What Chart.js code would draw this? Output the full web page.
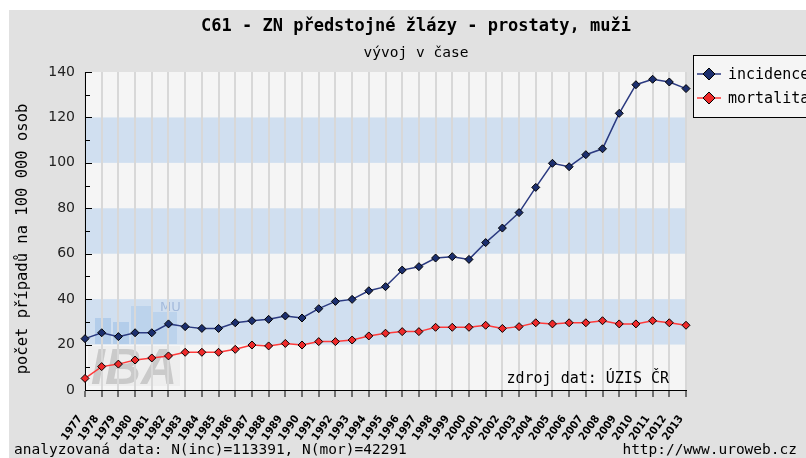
<!DOCTYPE html>
<html><head><meta charset="utf-8">
<script src="https://cdn.jsdelivr.net/npm/chart.js@4/dist/chart.umd.min.js"></script>
<style>html,body{margin:0;padding:0;background:#fff;overflow:hidden}#wrap{width:806px;height:458px;position:relative}</style>
</head><body><div id="wrap"><canvas id="c" width="806" height="458"></canvas></div>
<script>
const years = ['1977','1978','1979','1980','1981','1982','1983','1984','1985','1986','1987','1988','1989','1990','1991','1992','1993','1994','1995','1996','1997','1998','1999','2000','2001','2002','2003','2004','2005','2006','2007','2008','2009','2010','2011','2012','2013'];
const incidence = [22.6,25.2,23.5,25.2,25.2,29.1,27.9,27.1,27.1,29.6,30.5,31.1,32.6,31.7,35.8,39.0,39.9,43.7,45.5,52.8,54.3,58.1,58.7,57.5,64.9,71.3,78.1,89.2,99.8,98.3,103.6,106.2,121.8,134.4,136.8,135.6,132.7];
const mortality = [5.1,10.3,11.4,13.2,14.1,15.0,16.6,16.6,16.6,17.9,19.8,19.4,20.5,19.8,21.3,21.3,22.0,23.8,25.0,25.7,25.7,27.6,27.6,27.6,28.5,27.1,27.9,29.6,29.1,29.6,29.6,30.5,29.1,29.1,30.5,29.6,28.5];
const seriesNames = ['incidence','mortalita'];
const yMin = 0, yMax = 140, yStep = 20, yMinorStep = 10;
const bands = [[20,40],[60,80],[100,120]];
const titleText = 'C61 - ZN předstojné žlázy - prostaty, muži';
const subtitleText = 'vývoj v čase';
const yTitleText = 'počet případů na 100 000 osob';
const sourceText = 'zdroj dat: ÚZIS ČR';
const footLeft = 'analyzovaná data: N(inc)=113391, N(mor)=42291';
const footRight = 'http://www.uroweb.cz';

const MONO = '"DejaVu Sans Mono", "Liberation Mono", monospace';
const incColor = '#1c2f6e', incLine = '#2b3a80';
const morColor = '#ee2a2a', morLine = '#ff3a3a';

const decor = {
  id: 'decor',
  beforeDraw(chart) {
    const {ctx, chartArea: a} = chart;
    const y = chart.scales.y;
    ctx.save();
    ctx.fillStyle = '#ffffff';
    ctx.fillRect(0, 0, chart.width, chart.height);
    ctx.fillStyle = '#e1e1e1';
    ctx.fillRect(9, 10, chart.width - 9, chart.height - 10);
    ctx.fillStyle = '#f5f5f5';
    ctx.fillRect(a.left, a.top, a.right - a.left, a.bottom - a.top);
    ctx.fillStyle = '#d0dff0';
    bands.forEach(([lo, hi]) => {
      const t = y.getPixelForValue(hi), b = y.getPixelForValue(lo);
      ctx.fillRect(a.left, t, a.right - a.left, b - t);
    });
    // faint logo watermark
    ctx.fillStyle = 'rgba(90,150,215,0.25)';
    ctx.fillRect(a.left + 10, 318, 16, 26);
    ctx.fillRect(a.left + 28, 322, 16, 22);
    ctx.fillStyle = 'rgba(90,150,215,0.16)';
    ctx.fillRect(a.left + 46, 306, 20, 38);
    ctx.fillRect(a.left + 68, 312, 24, 32);
    ctx.fillStyle = 'rgba(236,236,236,0.85)';
    ctx.fillRect(a.left + 3, 346, 92, 40);
    ctx.fillStyle = 'rgba(120,150,200,0.5)';
    ctx.font = '13px "DejaVu Sans"';
    ctx.textBaseline = 'alphabetic';
    ctx.fillText('MU', a.left + 75, 311);
    ctx.fillStyle = 'rgba(165,165,165,0.5)';
    ctx.font = 'italic bold 50px "Liberation Sans", Arial, sans-serif';
    ctx.fillText('IBA', a.left + 6, 384);
    ctx.restore();
  },
  afterDraw(chart) {
    const {ctx, chartArea: a} = chart;
    const y = chart.scales.y;
    ctx.save();
    // inner y ticks
    ctx.strokeStyle = '#000';
    ctx.lineWidth = 1;
    for (let v = yMin; v <= yMax; v += yMinorStep) {
      const py = Math.round(y.getPixelForValue(v)) + 0.5;
      const len = (v % yStep === 0) ? 7 : 5;
      ctx.beginPath();
      ctx.moveTo(a.left, py);
      ctx.lineTo(a.left + len, py);
      ctx.stroke();
    }
    ctx.fillStyle = '#000';
    // titles
    ctx.textAlign = 'center';
    ctx.textBaseline = 'middle';
    ctx.font = 'bold 17px ' + MONO;
    ctx.fillText(titleText, 416, 27);
    ctx.font = '14.5px ' + MONO;
    ctx.fillText(subtitleText, 416, 53);
    // y title
    ctx.save();
    ctx.translate(23, 239);
    ctx.rotate(-Math.PI / 2);
    ctx.font = '15.5px ' + MONO;
    ctx.fillText(yTitleText, 0, 0);
    ctx.restore();
    // source
    ctx.textAlign = 'right';
    ctx.font = '15px ' + MONO;
    ctx.fillText(sourceText, 669, 379);
    // footers
    ctx.font = '14.5px ' + MONO;
    ctx.textAlign = 'left';
    ctx.fillText(footLeft, 14, 450);
    ctx.textAlign = 'right';
    ctx.fillText(footRight, 797, 450);
    // legend
    const lx = 693, ly = 55, lw = 130, lh = 62;
    ctx.fillStyle = '#f5f5f5';
    ctx.fillRect(lx, ly, lw, lh);
    ctx.strokeStyle = '#000';
    ctx.lineWidth = 1;
    ctx.strokeRect(lx + 0.5, ly + 0.5, lw, lh);
    chart.data.datasets.forEach((ds, i) => {
      const cy = 74 + i * 24;
      ctx.strokeStyle = ds.borderColor;
      ctx.lineWidth = 1.5;
      ctx.beginPath();
      ctx.moveTo(697, cy);
      ctx.lineTo(721, cy);
      ctx.stroke();
      ctx.beginPath();
      ctx.moveTo(709 - 6, cy); ctx.lineTo(709, cy - 6); ctx.lineTo(709 + 6, cy); ctx.lineTo(709, cy + 6); ctx.closePath();
      ctx.fillStyle = ds.pointBackgroundColor;
      ctx.fill();
      ctx.strokeStyle = '#000';
      ctx.lineWidth = 1;
      ctx.stroke();
      ctx.fillStyle = '#000';
      ctx.textAlign = 'left';
      ctx.font = '15px ' + MONO;
      ctx.fillText(ds.label, 728, cy + 1);
    });
    ctx.restore();
  }
};

new Chart(document.getElementById('c'), {
  type: 'line',
  data: {
    labels: years,
    datasets: [
      {label: seriesNames[0], data: incidence, borderColor: incLine, borderWidth: 1.5,
       pointStyle: 'rectRot', pointRadius: 4, pointBackgroundColor: incColor, pointBorderColor: '#000', pointBorderWidth: 1, tension: 0},
      {label: seriesNames[1], data: mortality, borderColor: morLine, borderWidth: 1.5,
       pointStyle: 'rectRot', pointRadius: 4, pointBackgroundColor: morColor, pointBorderColor: '#000', pointBorderWidth: 1, tension: 0}
    ]
  },
  options: {
    responsive: false, animation: false, devicePixelRatio: 1,
    layout: {padding: {left: 10, right: 120, top: 72, bottom: 18}},
    plugins: {legend: {display: false}, title: {display: false}, tooltip: {enabled: false}},
    scales: {
      x: {
        offset: false,
        grid: {color: '#d8d8d8', lineWidth: 2, tickColor: '#000', tickWidth: 1, tickLength: 7, drawOnChartArea: true},
        border: {display: true, color: '#000', width: 1},
        ticks: {autoSkip: false, minRotation: 55, maxRotation: 55, color: '#000', padding: 16, labelOffset: -5,
                font: {family: '"DejaVu Sans Condensed", "DejaVu Sans", sans-serif', size: 11, weight: 'bold'}},
        afterFit: s => { s.height = 50; }
      },
      y: {
        min: yMin, max: yMax,
        grid: {display: true, drawOnChartArea: false, drawTicks: false},
        border: {display: true, color: '#000', width: 1},
        ticks: {stepSize: yStep, color: '#222', padding: 10, font: {family: '"DejaVu Sans", sans-serif', size: 14}},
        afterFit: s => { s.width = 75; }
      }
    }
  },
  plugins: [decor]
});
</script></body></html>
